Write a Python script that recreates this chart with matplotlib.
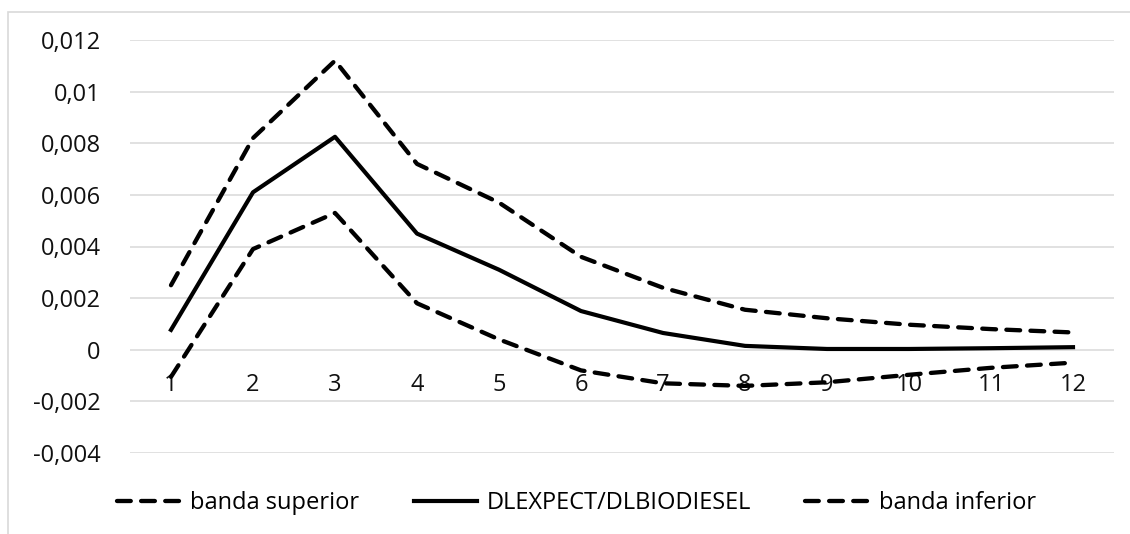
import matplotlib
matplotlib.use('Agg')
import matplotlib.pyplot as plt
from matplotlib.ticker import FuncFormatter
from matplotlib.patches import Rectangle
import numpy as np

# impulse response values
periods = [1, 2, 3, 4, 5, 6, 7, 8, 9, 10, 11, 12]
banda_superior = [0.0025, 0.0082, 0.0112, 0.0072, 0.0057, 0.0036, 0.0024, 0.00155, 0.00122, 0.00097, 0.0008, 0.00067]
respuesta = [0.00077, 0.0061, 0.00825, 0.0045, 0.0031, 0.0015, 0.00065, 0.00015, 0.00003, 0.00003, 0.00006, 0.0001]
banda_inferior = [-0.00105, 0.0039, 0.0053, 0.0018, 0.0004, -0.0008, -0.0013, -0.0014, -0.00126, -0.00097, -0.0007, -0.0005]
labels = ['banda superior', 'DLEXPECT/DLBIODIESEL', 'banda inferior']

plt.rcParams['font.family'] = ['Open Sans', 'DejaVu Sans']

W, H = 1130, 534
fig = plt.figure(figsize=(W / 100, H / 100), dpi=100)
ax = fig.add_axes([130 / W, 1 - 453 / H, (1114 - 130) / W, (453 - 40) / H])

lw = 3.1
dash = dict(dashes=(3.2, 2.4), dash_capstyle='round')
ax.plot(periods, banda_superior, color='black', lw=lw, label=labels[0], **dash)
ax.plot(periods, respuesta, color='black', lw=3.0, label=labels[1])
ax.plot(periods, banda_inferior, color='black', lw=lw, label=labels[2], **dash)

ax.set_xlim(0.5, 12.5)
ax.set_ylim(-0.004, 0.012)
ax.set_yticks(np.arange(-0.004, 0.0121, 0.002))
ax.set_xticks(periods)
ax.yaxis.set_major_formatter(FuncFormatter(lambda v, p: '{:g}'.format(round(v, 6)).replace('.', ',')))

ax.grid(axis='y', color='#d9d9d9', lw=1.1)
ax.set_axisbelow(True)
for s in ['top', 'right', 'left']:
    ax.spines[s].set_visible(False)
ax.spines['bottom'].set_position(('data', 0))
ax.spines['bottom'].set_visible(False)
ax.tick_params(axis='y', length=0, pad=21, labelsize=17, colors='#111111')
ax.tick_params(axis='x', length=0, pad=17, labelsize=17, colors='#111111')

ax.legend(loc='center', bbox_to_anchor=(0.51, 1 - 503 / H), bbox_transform=fig.transFigure,
          ncol=3, frameon=False, fontsize=17, handlelength=2.7, columnspacing=2.3, handletextpad=0.4)

# chart border (partly cut off in the original)
fig.patches.append(Rectangle((8 / W, -0.1), 1.2, 1 - 12 / H + 0.1, transform=fig.transFigure,
                             fill=False, edgecolor='#d9d9d9', lw=1.2))

fig.savefig('out.png', dpi=100)
